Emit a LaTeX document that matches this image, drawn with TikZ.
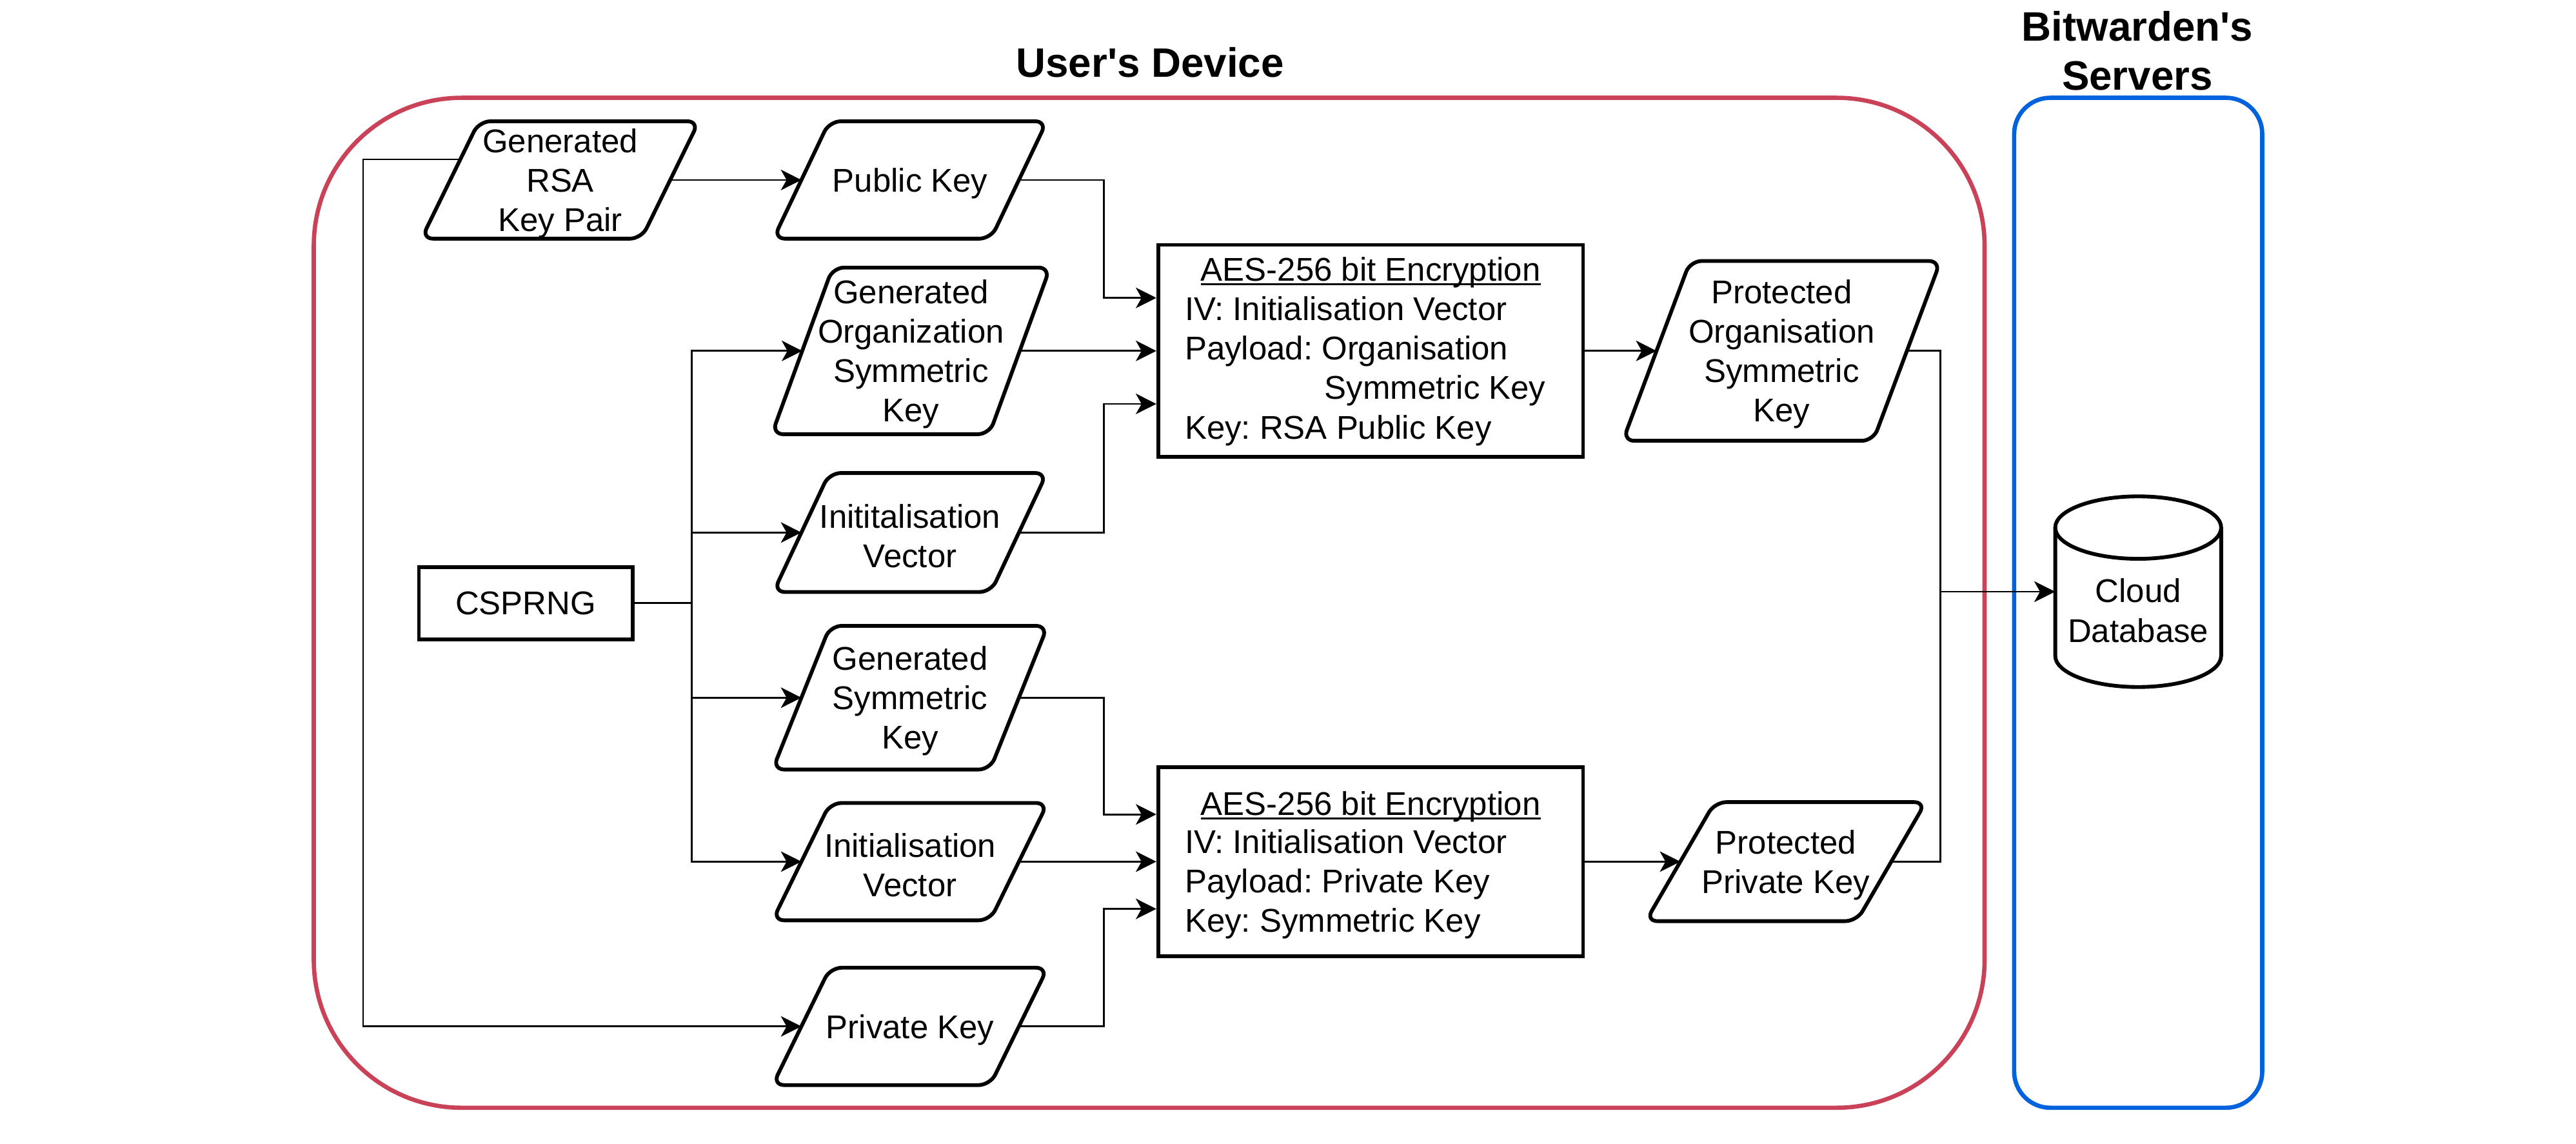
\documentclass[tikz,border=0pt]{standalone}
\usepackage{fontspec}
\setmainfont{Liberation Sans}
\usetikzlibrary{arrows.meta,calc}
\definecolor{devred}{RGB}{202,66,88}
\definecolor{srvblue}{RGB}{0,98,220}
\frenchspacing
\tikzset{
  txt/.style={font=\fontsize{20}{24}\selectfont, align=center, inner sep=0pt},
  ptext/.style={txt, yshift=-2pt},
  paranode/.style={draw=none, inner sep=0pt},
  paraline/.style={line width=2.3pt, rounded corners=7pt, line join=round},
  rectbox/.style={draw, line width=2.3pt, inner sep=0pt},
  cylline/.style={line width=2.3pt},
  conn/.style={line width=1.1pt},
  arr/.style={conn, -{Stealth[length=12.5pt,width=12.5pt,inset=3.5pt]}},
  title/.style={font=\bfseries\fontsize{25}{30}\selectfont, align=center},
  container/.style={line width=2.6pt}
}
\newcommand{\drawpara}[2]{\draw[paraline] ([xshift=#2]#1.north west) -- ([xshift=#2]#1.north east) -- ([xshift=-#2]#1.south east) -- ([xshift=-#2]#1.south west) -- cycle;}
\newcommand{\ulbox}[1]{\setbox0=\hbox{#1}\rlap{\rule[-2.6pt]{\wd0}{1.3pt}}\box0}
\begin{document}
\begin{tikzpicture}[x=1pt,y=-1pt]
\useasboundingbox (0,0) rectangle (1568,696);
\fill[white] (0,0) rectangle (1568,696);

% containers
\draw[container, devred, rounded corners=90pt] (191,59.5) rectangle (1208,674);
\draw[container, srvblue, rounded corners=22pt] (1226,59.5) rectangle (1377,674);
\node[title] (tdev) at (700,38) {User\textquotesingle s Device};
\node[title] (tsrv) at (1301,31) {Bitwarden\textquotesingle s\\Servers};

% parallelogram nodes
\node[paranode, minimum width=133.5, minimum height=71, label={[ptext]center:{Generated\\RSA\\Key Pair}}] (rsa) at (341,109.5) {};
\node[paranode, minimum width=132, minimum height=71, label={[ptext]center:{Public Key}}] (pub) at (554,109.5) {};
\node[paranode, minimum width=132, minimum height=101, label={[ptext]center:{Generated\\Organization\\Symmetric\\Key}}] (org) at (554.5,213.5) {};
\node[paranode, minimum width=132, minimum height=72, label={[ptext]center:{Inititalisation\\Vector}}] (iv1) at (554,324) {};
\node[paranode, minimum width=132, minimum height=87, label={[ptext]center:{Generated\\Symmetric\\Key}}] (gsym) at (554,424.5) {};
\node[paranode, minimum width=132, minimum height=71, label={[ptext]center:{Initialisation\\Vector}}] (iv2) at (554,524.25) {};
\node[paranode, minimum width=132, minimum height=71, label={[ptext]center:{Private Key}}] (priv) at (554,624.5) {};
\node[paranode, minimum width=152, minimum height=109, label={[ptext]center:{Protected\\Organisation\\Symmetric\\Key}}] (porg) at (1084.5,213.5) {};
\node[paranode, minimum width=128, minimum height=72, label={[ptext]center:{Protected\\Private Key}}] (ppriv) at (1087,524.25) {};
\drawpara{rsa}{17.5}
\drawpara{pub}{17}
\drawpara{org}{18.5}
\drawpara{iv1}{17}
\drawpara{gsym}{17.5}
\drawpara{iv2}{17.5}
\drawpara{priv}{17.5}
\drawpara{porg}{20.5}
\drawpara{ppriv}{21}

% rectangles
\node[rectbox, minimum width=130, minimum height=44, txt] (csprng) at (320,367) {CSPRNG};
\node[rectbox, minimum width=258.6, minimum height=129] (aes1) at (834.3,213.5) {};
\node[rectbox, minimum width=258.6, minimum height=115] (aes2) at (834.3,524.25) {};

% AES texts
\node[txt, anchor=base] (a1t) at (834.3,171) {\ulbox{AES-256 bit Encryption}};
\node[txt, anchor=base west] (a1l1) at (721,195) {IV: Initialisation Vector};
\node[txt, anchor=base west] (a1l2) at (721,219) {Payload: Organisation};
\node[txt, anchor=base east] (a1l3) at (941,243) {Symmetric Key};
\node[txt, anchor=base west] (a1l4) at (721,267) {Key: RSA Public Key};
\node[txt, anchor=base] (a2t) at (834.3,496) {\ulbox{AES-256 bit Encryption}};
\node[txt, anchor=base west] (a2l1) at (721,519) {IV: Initialisation Vector};
\node[txt, anchor=base west] (a2l2) at (721,543) {Payload: Private Key};
\node[txt, anchor=base west] (a2l3) at (721,567) {Key: Symmetric Key};

% cylinder
\node[draw=none, minimum width=101, minimum height=116.5, inner sep=0pt] (db) at (1301.5,360) {};
\draw[cylline] (1251,321) -- (1251,399) arc[start angle=180, end angle=0, x radius=50.5, y radius=19] -- (1352,321);
\draw[cylline] (1301.5,321) ellipse [x radius=50.5, y radius=19];
\node[txt] (dbt) at (1301.5,371.5) {Cloud\\Database};

% helper coordinates
\coordinate (split) at (421,367);
\coordinate (busL) at (672,0);
\coordinate (busR) at (1181,0);
\coordinate (rsaturn) at (221,0);
\coordinate (rsaout) at ([xshift=6.2,yshift=12.5]rsa.west);
\coordinate (aes1in1) at ([yshift=32.25]aes1.west);
\coordinate (aes1in3) at ([yshift=-32.25]aes1.west);
\coordinate (aes2in1) at ([yshift=28.75]aes2.west);
\coordinate (aes2in3) at ([yshift=-28.75]aes2.west);

% connectors
\draw[arr] (rsaout) -- (rsaout -| rsaturn) |- (priv.west);
\draw[arr] (rsa.east) -- (pub.west);
\draw[arr] (pub.east) -- (pub.east -| busL) |- (aes1in1);
\draw[conn] (csprng.east) -- (split);
\draw[arr] (split) |- (org.west);
\draw[arr] (split) |- (iv1.west);
\draw[arr] (split) |- (gsym.west);
\draw[arr] (split) |- (iv2.west);
\draw[arr] (org.east) -- (aes1.west);
\draw[arr] (iv1.east) -- (iv1.east -| busL) |- (aes1in3);
\draw[arr] (aes1.east) -- (porg.west);
\draw[arr] (porg.east) -- (porg.east -| busR) |- (db.west);
\draw[arr] (ppriv.east) -- (ppriv.east -| busR) |- (db.west);
\draw[arr] (gsym.east) -- (gsym.east -| busL) |- (aes2in1);
\draw[arr] (iv2.east) -- (aes2.west);
\draw[arr] (priv.east) -- (priv.east -| busL) |- (aes2in3);
\draw[arr] (aes2.east) -- (ppriv.west);
\end{tikzpicture}
\end{document}
